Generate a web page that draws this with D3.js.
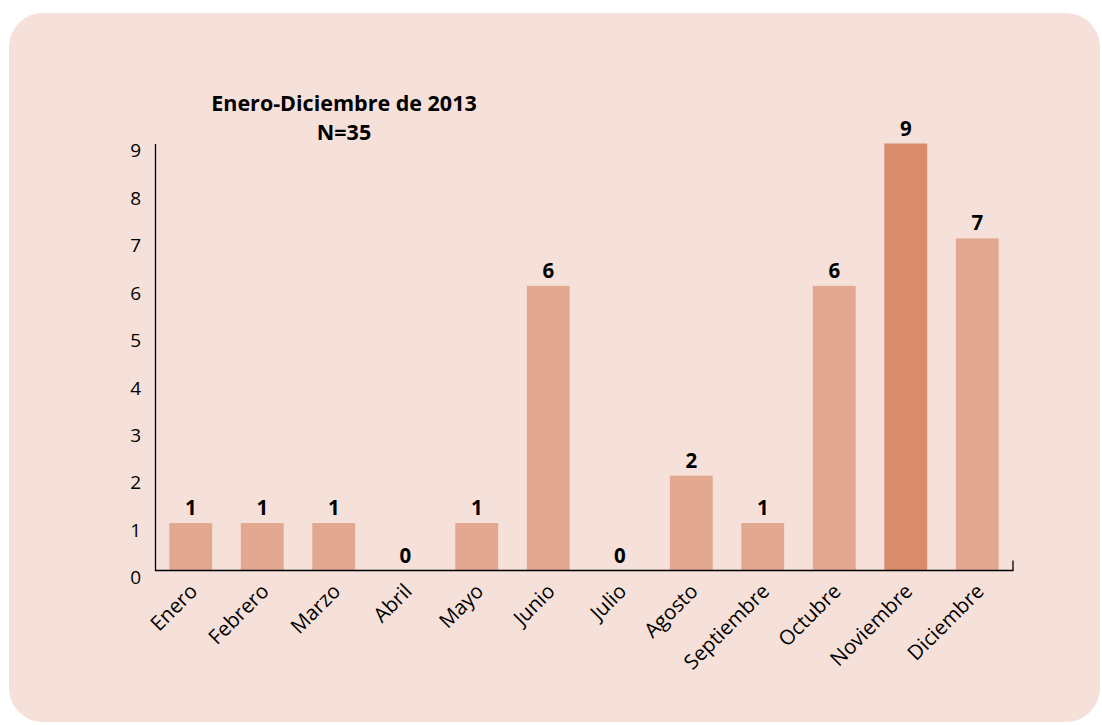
<!DOCTYPE html>
<html><head><meta charset="utf-8">
<script src="https://cdn.jsdelivr.net/npm/d3@7"></script>
<style>html,body{margin:0;padding:0;background:#fff;}svg{display:block;}</style>
</head><body>
<svg id="c" width="1102" height="725"></svg>
<script>
const months = ["Enero","Febrero","Marzo","Abril","Mayo","Junio","Julio","Agosto","Septiembre","Octubre","Noviembre","Diciembre"];
const counts = [1,1,1,0,1,6,0,2,1,6,9,7];
const yTicks = [0,1,2,3,4,5,6,7,8,9];
const titleLines = ["Enero-Diciembre de 2013","N=35"];

const svg = d3.select("#c");
const font = "'Open Sans', sans-serif";
svg.append("rect").attr("x",9).attr("y",13).attr("width",1091).attr("height",709)
  .attr("rx",34).attr("fill","#f5e1da");

const left=155, right=1013, y0=570.5, yTop=143.5;
const x = d3.scaleBand().domain(months).range([left,right]).paddingInner(0.4).paddingOuter(0.2);
const y = d3.scaleLinear().domain([0,9]).range([y0,yTop]);

const g = svg.append("g");
g.selectAll("rect.bar").data(months).join("rect")
  .attr("x",d=>x(d)).attr("width",x.bandwidth())
  .attr("y",(d,i)=>y(counts[i])).attr("height",(d,i)=>y0-y(counts[i]))
  .attr("fill",(d,i)=>counts[i]===d3.max(counts)?"#d98c6c":"#e3a890");

g.selectAll("text.val").data(months).join("text")
  .attr("x",d=>x(d)+x.bandwidth()/2).attr("y",(d,i)=>y(counts[i])-8)
  .attr("text-anchor","middle").attr("font-family",font).attr("font-weight","bold")
  .attr("font-size",20.5).attr("fill","#000").text((d,i)=>counts[i]);

// y axis
const ya = svg.append("g").attr("transform",`translate(${left},0)`)
  .call(d3.axisLeft(y).tickValues(yTicks).tickSize(0).tickPadding(14).tickFormat(d3.format("d")));
ya.select(".domain").attr("stroke","#000").attr("stroke-width",1.3);
ya.selectAll("text").attr("font-family",font).attr("font-size",19).attr("fill","#000").attr("dy","0.7em");

// x axis
const xa = svg.append("g").attr("transform",`translate(0,${y0})`)
  .call(d3.axisBottom(x).tickSize(0).tickSizeOuter(0));
xa.select(".domain").remove();
xa.selectAll("text").attr("font-family",font).attr("font-size",20.5).attr("fill","#000")
  .attr("text-anchor","end").attr("dy",0).attr("y",0)
  .attr("transform","translate(8,22) rotate(-45)");
svg.append("path").attr("d",`M${left},${y0}H${right}V${y0-10}`).attr("fill","none")
  .attr("stroke","#000").attr("stroke-width",1.3);

svg.selectAll("text.title").data(titleLines).join("text")
  .attr("x",344).attr("y",(d,i)=>111+i*29).attr("text-anchor","middle")
  .attr("font-family",font).attr("font-weight","bold").attr("font-size",21.5).attr("fill","#000")
  .text(d=>d);
</script>
</body></html>
